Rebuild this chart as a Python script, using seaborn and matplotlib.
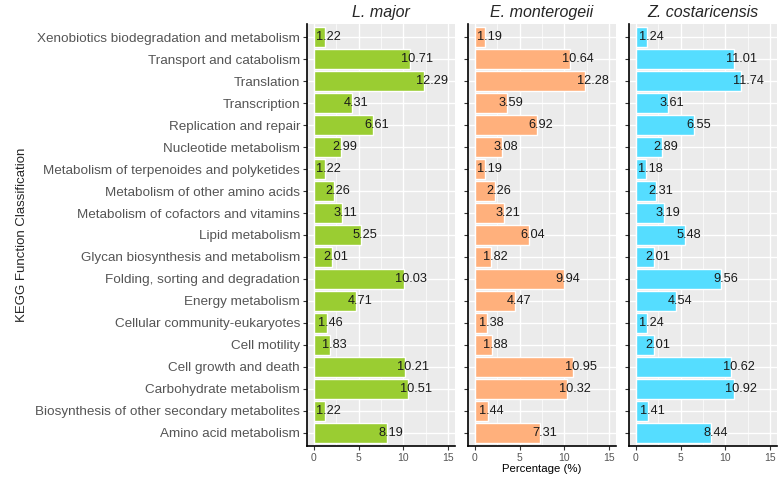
import matplotlib
matplotlib.use("Agg")
import matplotlib.pyplot as plt
import seaborn as sns
from matplotlib.ticker import MultipleLocator

# KEGG categories, top to bottom as drawn
categories = [
    "Xenobiotics biodegradation and metabolism",
    "Transport and catabolism",
    "Translation",
    "Transcription",
    "Replication and repair",
    "Nucleotide metabolism",
    "Metabolism of terpenoides and polyketides",
    "Metabolism of other amino acids",
    "Metabolism of cofactors and vitamins",
    "Lipid metabolism",
    "Glycan biosynthesis and metabolism",
    "Folding, sorting and degradation",
    "Energy metabolism",
    "Cellular community-eukaryotes",
    "Cell motility",
    "Cell growth and death",
    "Carbohydrate metabolism",
    "Biosynthesis of other secondary metabolites",
    "Amino acid metabolism",
]

l_major = [1.22, 10.71, 12.29, 4.31, 6.61, 2.99, 1.22, 2.26, 3.11, 5.25,
           2.01, 10.03, 4.71, 1.46, 1.83, 10.21, 10.51, 1.22, 8.19]
e_monterogeii = [1.19, 10.64, 12.28, 3.59, 6.92, 3.08, 1.19, 2.26, 3.21, 6.04,
                 1.82, 9.94, 4.47, 1.38, 1.88, 10.95, 10.32, 1.44, 7.31]
z_costaricensis = [1.24, 11.01, 11.74, 3.61, 6.55, 2.89, 1.18, 2.31, 3.19, 5.48,
                   2.01, 9.56, 4.54, 1.24, 2.01, 10.62, 10.92, 1.41, 8.44]

species = ["L. major", "E. monterogeii", "Z. costaricensis"]
series = [l_major, e_monterogeii, z_costaricensis]
colors = ["#9ACD32", "#FFB07C", "#55DDFF"]

sns.set_style("darkgrid", {"axes.facecolor": "#EBEBEB", "grid.color": "white"})
plt.rcParams["font.family"] = ["Liberation Sans", "DejaVu Sans"]

fig = plt.figure(figsize=(7.81, 4.79), dpi=100)
W, H = 781, 479
lefts = [307, 468, 629]
pw = 148
top, bottom = 24, 446

for i, (name, vals, col) in enumerate(zip(species, series, colors)):
    ax = fig.add_axes([lefts[i] / W, 1 - bottom / H, pw / W, (bottom - top) / H])
    sns.barplot(x=vals, y=categories, color=col, width=0.9, ax=ax,
                saturation=1, orient="h")
    ax.set_xlim(-0.75, 15.75)
    ax.set_ylim(len(categories) - 0.4, -0.6)
    ax.xaxis.set_major_locator(MultipleLocator(5))
    ax.xaxis.set_minor_locator(MultipleLocator(2.5))
    ax.grid(which="major", color="white", linewidth=1.0)
    ax.grid(which="minor", axis="x", color="white", linewidth=0.5)
    ax.set_axisbelow(True)
    for s in ["top", "right"]:
        ax.spines[s].set_visible(False)
    for s in ["left", "bottom"]:
        ax.spines[s].set_visible(True)
        ax.spines[s].set_color("black")
        ax.spines[s].set_linewidth(1.2)
    ax.tick_params(axis="both", which="major", length=3, width=0.8,
                   color="#333333", labelcolor="#555555", labelsize=7.5,
                   bottom=True, left=True, pad=2)
    ax.tick_params(axis="y", labelsize=9.7)
    ax.tick_params(which="minor", length=0)
    if i > 0:
        ax.set_yticklabels([])
    ax.set_ylabel("")
    ax.set_xlabel("Percentage (%)" if i == 1 else "", fontsize=8.2,
                  color="black", labelpad=1)
    ax.set_title(name, fontstyle="italic", fontsize=11.5, pad=5)
    for c in ax.containers:
        ax.bar_label(c, labels=[f"{v:.2f}" for v in vals], padding=-6,
                     fontsize=9.2, color="#1a1a1a")

fig.text(22 / W, 1 - 235 / H, "KEGG Function Classification", rotation=90,
         ha="center", va="center", fontsize=9.5)

fig.savefig("out.png", dpi=100)
